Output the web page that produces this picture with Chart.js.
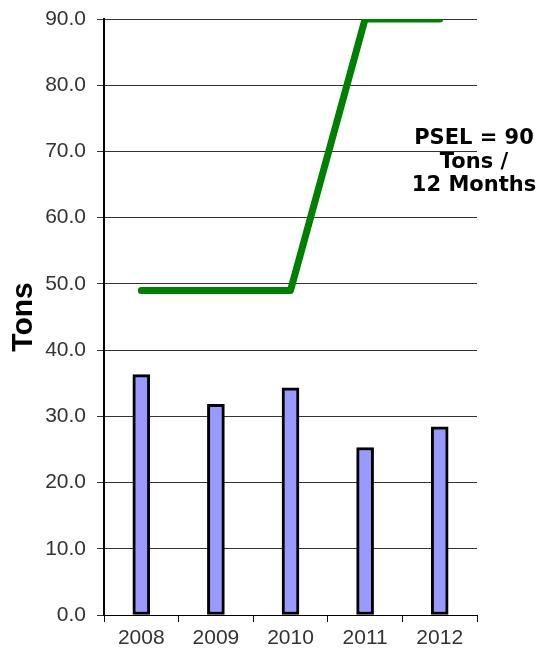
<!DOCTYPE html>
<html>
<head>
<meta charset="utf-8">
<script src="https://cdn.jsdelivr.net/npm/chart.js@4.4.0/dist/chart.umd.min.js"></script>
<style>
    html, body { margin: 0; padding: 0; background: #fff; }
    #wrap { width: 550px; height: 652px; position: relative; }
</style>
</head>
<body>
<div id="wrap"><canvas id="tonsChart"></canvas></div>
<script>
// Yearly emissions vs. the permit limit
const years = ['2008', '2009', '2010', '2011', '2012'];
const actualTons = [36.3, 31.8, 34.3, 25.3, 28.4];
const pselTons = [49, 49, 49, 90, 90];
const yTicks = [0, 10, 20, 30, 40, 50, 60, 70, 80, 90];
const noteLines = ['PSEL = 90', 'Tons /', '12 Months'];

// Text block to the right of the plot
const notePlugin = {
    id: 'psellabel',
    afterDraw(chart) {
        const ctx = chart.ctx;
        const y = chart.scales.y;
        ctx.save();
        ctx.font = 'bold 21px "DejaVu Sans", Verdana, sans-serif';
        ctx.fillStyle = '#000';
        ctx.textAlign = 'center';
        ctx.textBaseline = 'middle';
        const cx = 474;
        const top = y.getPixelForValue(71.9);
        noteLines.forEach((line, i) => {
            ctx.fillText(line, cx, top + i * 23.5);
        });
        ctx.restore();
    }
};

const tickFont = { family: '"Liberation Sans", Arial, sans-serif', size: 21 };

new Chart(document.getElementById('tonsChart'), {
    data: {
        labels: years,
        datasets: [
            {
                type: 'line',
                label: 'PSEL',
                data: pselTons,
                borderColor: '#008000',
                borderWidth: 7,
                borderCapStyle: 'round',
                borderJoinStyle: 'round',
                pointRadius: 0,
                tension: 0,
                order: 0
            },
            {
                type: 'bar',
                label: 'Tons',
                data: actualTons,
                backgroundColor: '#9999ff',
                borderColor: '#000',
                borderWidth: 3,
                borderSkipped: false,
                barThickness: 17,
                order: 1
            }
        ]
    },
    options: {
        responsive: true,
        maintainAspectRatio: false,
        animation: false,
        layout: { padding: { top: 19, right: 73, bottom: 0, left: 0 } },
        plugins: {
            legend: { display: false },
            tooltip: { enabled: false }
        },
        scales: {
            x: {
                offset: true,
                afterFit(scale) { scale.height = 37; },
                grid: {
                    offset: true,
                    drawOnChartArea: false,
                    drawTicks: true,
                    tickLength: 7,
                    color: '#000'
                },
                border: { color: '#000', width: 1 },
                ticks: {
                    color: '#333',
                    padding: 4,
                    font: tickFont
                }
            },
            y: {
                min: 0,
                max: 90,
                afterFit(scale) {
                    scale.width = 104;
                    scale.paddingTop = 0;
                    scale.paddingBottom = 0;
                },
                afterBuildTicks(scale) {
                    scale.ticks = yTicks.map(v => ({ value: v }));
                },
                grid: {
                    color: '#333',
                    lineWidth: 1,
                    drawTicks: true,
                    tickLength: 7
                },
                border: { color: '#000', width: 2 },
                ticks: {
                    color: '#333',
                    padding: 11,
                    font: tickFont,
                    callback: v => v.toFixed(1)
                },
                title: {
                    display: true,
                    text: 'Tons',
                    color: '#000',
                    padding: { top: 6, bottom: 0 },
                    font: { family: '"Liberation Sans", Arial, sans-serif', size: 30, weight: 'bold' }
                }
            }
        }
    },
    plugins: [notePlugin]
});
</script>
</body>
</html>
